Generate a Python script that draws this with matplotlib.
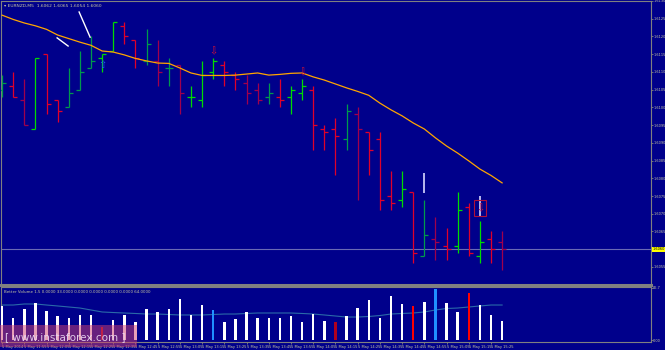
import matplotlib
matplotlib.use('Agg')
import matplotlib.pyplot as plt
from matplotlib.patches import Rectangle
import numpy as np

# EURNZD M5 bars, 5 May 2014 11:45 .. 15:30
opens = [1.6105, 1.6106, 1.6102, 1.6094, 1.6115, 1.6102, 1.6100, 1.6105, 1.6111, 1.6114,
         1.6116, 1.6123, 1.6119, 1.6113, 1.6113, 1.6111, 1.6112, 1.6103, 1.6102, 1.6110,
         1.6112, 1.6109, 1.6107, 1.6105, 1.6103, 1.6103, 1.6103, 1.6104, 1.6105, 1.6094,
         1.6094, 1.6091, 1.6098, 1.6093, 1.6091, 1.6075, 1.6074, 1.6076, 1.6058, 1.6063,
         1.6061, 1.6061, 1.6072, 1.6058, 1.6063, 1.6062]
highs = [1.6109, 1.6110, 1.6108, 1.6114, 1.6115, 1.6102, 1.6111, 1.6116, 1.6120, 1.6115,
         1.6124, 1.6124, 1.6119, 1.6122, 1.6119, 1.6114, 1.6112, 1.6106, 1.6113, 1.6114,
         1.6113, 1.6110, 1.6109, 1.6107, 1.6107, 1.6108, 1.6106, 1.6108, 1.6106, 1.6095,
         1.6097, 1.6101, 1.6100, 1.6093, 1.6093, 1.6082, 1.6082, 1.6076, 1.6074, 1.6069,
         1.6066, 1.6076, 1.6073, 1.6068, 1.6065, 1.6065]
lows = [1.6103, 1.6103, 1.6095, 1.6094, 1.6098, 1.6096, 1.6100, 1.6105, 1.6111, 1.6110,
        1.6116, 1.6118, 1.6111, 1.6112, 1.6106, 1.6106, 1.6098, 1.6100, 1.6100, 1.6108,
        1.6106, 1.6105, 1.6101, 1.6101, 1.6101, 1.6100, 1.6098, 1.6102, 1.6088, 1.6088,
        1.6081, 1.6088, 1.6074, 1.6081, 1.6071, 1.6071, 1.6072, 1.6056, 1.6058, 1.6057,
        1.6057, 1.6059, 1.6058, 1.6056, 1.6056, 1.6054]
closes = [1.6107, 1.6103, 1.6095, 1.6114, 1.6101, 1.6099, 1.6104, 1.6110, 1.6113, 1.6115,
          1.6124, 1.6120, 1.6114, 1.6118, 1.6110, 1.6111, 1.6104, 1.6103, 1.6109, 1.6113,
          1.6110, 1.6108, 1.6104, 1.6102, 1.6104, 1.6102, 1.6105, 1.6106, 1.6095, 1.6093,
          1.6092, 1.6099, 1.6094, 1.6088, 1.6074, 1.6073, 1.6077, 1.6059, 1.6064, 1.6062,
          1.6060, 1.6071, 1.6059, 1.6062, 1.6060, 1.6060]

# moving average (orange)
ma = [1.61260, 1.61248, 1.61238, 1.61230, 1.61220, 1.61204, 1.61194, 1.61184, 1.61175, 1.61159,
      1.61156, 1.61148, 1.61138, 1.61131, 1.61125, 1.61124, 1.61111, 1.61097, 1.61090, 1.61090,
      1.61090, 1.61091, 1.61094, 1.61097, 1.61091, 1.61093, 1.61096, 1.61097, 1.61086, 1.61077,
      1.61066, 1.61055, 1.61045, 1.61034, 1.61012, 1.60993, 1.60976, 1.60956, 1.60939, 1.60914,
      1.60891, 1.60871, 1.60849, 1.60826, 1.60808, 1.60787]

# white spikes above two bars
spike_bars = [38, 43]
spike_hi = [1.60815, 1.60750]
spike_lo = [1.60759, 1.60694]

# arrows
down_arrow_bars = [19, 27, 43]
down_arrow_prices = [1.61159, 1.61100, 1.60716]
up_arrow_bars = [9]
up_arrow_prices = [1.61120]

# hand drawn trend lines (bar, price)
trend_a = [(6.93, 1.61269), (7.92, 1.61198)]
trend_b = [(4.95, 1.61196), (5.94, 1.61173)]

# Better Volume
volumes = [57, 37, 52, 62, 48, 40, 37, 42, 42, 22, 33, 42, 30, 52, 47, 52, 68, 42, 58, 50,
           30, 35, 47, 37, 37, 37, 40, 30, 43, 32, 30, 40, 53, 67, 37, 73, 60, 57, 63, 85,
           62, 47, 78, 58, 42, 32]
vol_ma = [58.3, 58.3, 60.0, 60.0, 58.3, 56.7, 55.0, 53.3, 50.0, 46.7, 45.8, 45.0, 44.2, 43.3,
          43.3, 42.5, 41.7, 41.7, 41.7, 42.5, 43.3, 43.3, 44.2, 45.0, 45.0, 45.0, 45.0, 44.2,
          43.3, 41.7, 40.0, 38.3, 38.3, 39.2, 40.8, 43.3, 44.2, 45.0, 46.7, 50.0, 52.5, 53.3,
          55.0, 56.7, 58.3, 58.3]

times = ['2014', '11:55', '12:05', '12:15', '12:25', '12:35', '12:45', '12:55', '13:05',
         '13:15', '13:25', '13:35', '13:45', '13:55', '14:05', '14:15', '14:25', '14:35',
         '14:45', '14:55', '15:05', '15:15', '15:25']

last_price = 1.6060

# style
BG = '#00008b'
GRAY = '#808080'
TXT = '#c8c8a0'
dim_bars = {0, 2, 6, 7, 8, 13, 14, 15, 16, 22, 23, 24, 31, 32, 38, 39, 45}
vol_red_dark = {9, 30}
vol_red = {37, 42}
vol_blue = {19, 39}

W, H = 665, 350
fig = plt.figure(figsize=(W / 100, H / 100), dpi=100, facecolor=BG)
ax = fig.add_axes([1 / W, 1 - 285 / H, 650 / W, 284 / H], facecolor=BG)
vax = fig.add_axes([1 / W, 1 - 342 / H, 650 / W, 55 / H], facecolor=BG)

x = np.arange(len(highs))
cols = []
for i in range(len(x)):
    up = closes[i] >= opens[i]
    if up:
        cols.append('#009a4c' if i in dim_bars else '#00dc00')
    else:
        cols.append('#a0004c' if i in dim_bars else '#e0002a')

ax.axhline(last_price, color='#6a6ab4', lw=0.8, zorder=1)
ax.vlines(x, lows, highs, colors=cols, lw=0.9, zorder=3)
ax.hlines(opens, x - 0.36, x, colors=cols, lw=0.9, zorder=3)
ax.hlines(closes, x, x + 0.36, colors=cols, lw=0.9, zorder=3)
ax.vlines(spike_bars, spike_lo, spike_hi, colors='#d8d8ff', lw=1.2, zorder=3)
ax.plot(x, ma, color='#ffa500', lw=0.9, zorder=4)

for tl in (trend_a, trend_b):
    ax.plot([p[0] for p in tl], [p[1] for p in tl], color='white', lw=1.0, zorder=4)

for b, p in zip(down_arrow_bars, down_arrow_prices):
    ax.text(b, p, '\u21e9', color='#d0103a', fontsize=7, ha='center', va='center', zorder=5)
for b, p in zip(up_arrow_bars, up_arrow_prices):
    ax.text(b, p, '\u21e7', color='#2060ff', fontsize=7, ha='center', va='center', zorder=5)
ax.add_patch(Rectangle((43 - 0.55, down_arrow_prices[2] - 0.00023), 1.1, 0.00046,
                       fill=False, edgecolor='#b0103a', lw=0.8, zorder=5))

ax.set_xlim(-0.1, 58.4)
ax.set_ylim(1.60499, 1.61300)
ax.yaxis.tick_right()
yt = np.round(np.arange(1.6055, 1.61301, 0.0005), 4)
ax.set_yticks(yt)
ax.set_yticklabels(['%.4f' % v for v in yt])
ax.set_xticks([])
ax.tick_params(axis='y', colors=GRAY, labelcolor=TXT, labelsize=2.5, length=1.2, width=0.6, pad=0.4)
for s in ax.spines.values():
    s.set_color(GRAY)
    s.set_linewidth(0.8)
ax.spines['bottom'].set_linewidth(2.2)
ax.text(1.0025, last_price, '%.4f' % last_price, transform=ax.get_yaxis_transform(),
        fontsize=2.5, color='black', va='center', ha='left',
        bbox=dict(facecolor='#ffff00', edgecolor='none', pad=0.4), zorder=6, clip_on=False)
ax.text(0.004, 0.988, '\u25be EURNZD,M5  1.6062 1.6065 1.6054 1.6060', transform=ax.transAxes,
        fontsize=3.2, color=TXT, va='top', ha='left')

vcols = []
for i in range(len(x)):
    if i in vol_red_dark:
        vcols.append('#b0001e')
    elif i in vol_red:
        vcols.append('#ff0000')
    elif i in vol_blue:
        vcols.append('#2090ff')
    else:
        vcols.append('white')
vax.bar(x, volumes, width=0.22, color=vcols, zorder=3)
vax.plot(x, vol_ma, color='#2a6aa8', lw=0.8, zorder=2)
vax.set_xlim(-0.1, 58.4)
vax.set_ylim(-3.3, 88.3)
vax.yaxis.tick_right()
vax.set_yticks([0, 86.7])
vax.set_yticklabels(['0.00', '86.7'])
vax.set_xticks(x[::2])
vax.set_xticklabels(['5 May ' + t for t in times], ha='left')
vax.tick_params(axis='y', colors=GRAY, labelcolor=TXT, labelsize=2.5, length=1.2, width=0.6, pad=0.4)
vax.tick_params(axis='x', colors=GRAY, labelcolor=TXT, labelsize=2.6, length=1.5, width=0.6, pad=0.5)
for s in vax.spines.values():
    s.set_color(GRAY)
    s.set_linewidth(0.8)
vax.text(0.004, 0.95, 'Better Volume 1.5 0.0000 33.0000 0.0000 0.0000 0.0000 0.0000 64.0000',
         transform=vax.transAxes, fontsize=2.9, color=TXT, va='top', ha='left')

# watermark
fig.patches.append(Rectangle((0, 1 - 347 / H), 137 / W, 22 / H, transform=fig.transFigure,
                             facecolor='#d04070', edgecolor='none', alpha=0.5, zorder=5))
fig.text(5 / W, 1 - 337 / H, '[ www.instaforex.com ]', fontsize=7.5, color='#eedcf4',
         alpha=0.9, va='center', ha='left', zorder=6)

fig.savefig('out.png', dpi=100, facecolor=BG)
